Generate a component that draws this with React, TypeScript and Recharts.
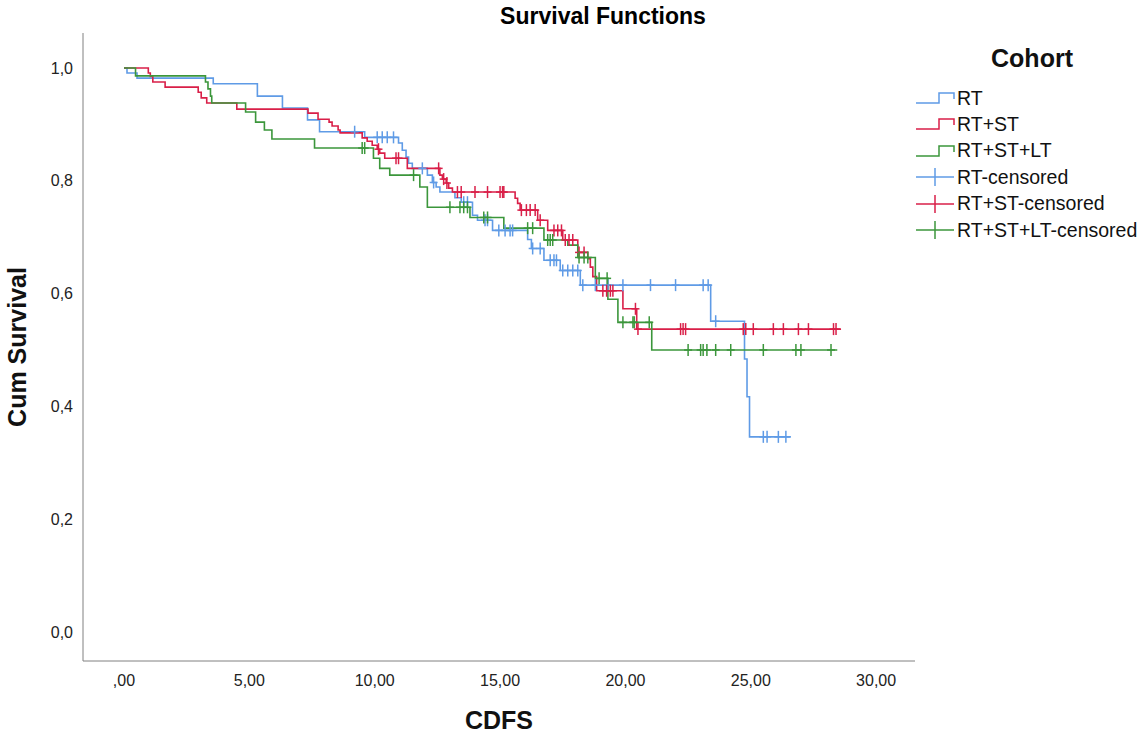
import React from "react";
import { ComposedChart, Line, Scatter, XAxis, YAxis } from "recharts";

// event times and survival after each event
const rtTimes = [0, 0.12, 0.52, 3.56, 5.32, 6.32, 7.32, 7.8, 9.6, 10.95, 11.1, 11.25, 11.35, 11.5, 12.1, 12.3, 12.45, 12.6, 13.2, 13.45, 13.9, 14.1, 14.7, 16.1, 16.25, 16.75, 17.4, 18.2, 23.4, 24.75, 24.85, 24.95];
const rtSurv = [1, 0.991, 0.982, 0.972, 0.95, 0.929, 0.908, 0.887, 0.877, 0.867, 0.854, 0.842, 0.831, 0.822, 0.81, 0.797, 0.789, 0.78, 0.77, 0.762, 0.739, 0.73, 0.712, 0.696, 0.68, 0.659, 0.641, 0.615, 0.551, 0.484, 0.417, 0.346];
const rtEnd = 26.6;
const rtCensored = [9.2, 10.1, 10.3, 10.5, 10.75, 11.9, 12.35, 13.55, 13.7, 14.4, 14.5, 14.95, 15.2, 15.4, 15.5, 16.3, 16.6, 17.0, 17.15, 17.25, 17.5, 17.7, 17.9, 18.1, 18.3, 18.8, 19.3, 19.9, 21.0, 22.0, 23.1, 23.3, 23.6, 25.5, 25.65, 26.1, 26.4];

const stTimes = [0, 0.97, 1.05, 1.15, 1.64, 2.96, 3.08, 3.3, 4.5, 7.34, 7.74, 8.18, 8.3, 8.54, 8.62, 9.5, 9.7, 9.9, 10.1, 10.2, 10.4, 11.3, 12.6, 12.7, 12.85, 12.95, 13.1, 15.6, 15.7, 15.8, 16.5, 16.9, 17.5, 18.1, 18.5, 18.6, 18.7, 18.85, 19.9, 20.45];
const stSurv = [1, 0.991, 0.985, 0.975, 0.966, 0.957, 0.947, 0.938, 0.927, 0.92, 0.909, 0.904, 0.897, 0.89, 0.885, 0.876, 0.87, 0.863, 0.856, 0.849, 0.84, 0.822, 0.81, 0.803, 0.796, 0.787, 0.78, 0.769, 0.76, 0.748, 0.73, 0.712, 0.695, 0.673, 0.662, 0.647, 0.63, 0.605, 0.573, 0.537];
const stEnd = 28.6;
const stCensored = [10.15, 10.85, 10.95, 12.55, 12.75, 12.88, 13.3, 13.45, 14.0, 14.5, 15.0, 15.1, 15.15, 15.85, 16.05, 16.2, 16.4, 16.6, 17.15, 17.3, 17.45, 17.6, 17.75, 17.9, 18.15, 18.35, 19.1, 19.25, 19.4, 19.5, 20.4, 20.5, 22.2, 22.3, 22.4, 24.7, 24.8, 25.1, 25.9, 26.3, 26.9, 27.3, 28.3, 28.4];

const ltTimes = [0, 0.46, 3.25, 3.35, 3.45, 3.5, 4.85, 5.25, 5.6, 5.9, 7.6, 9.95, 10.2, 10.6, 11.8, 12.1, 13.8, 15.15, 16.75, 17.7, 18.1, 18.8, 19.3, 19.7, 21.05];
const ltSurv = [1, 0.986, 0.975, 0.963, 0.95, 0.938, 0.922, 0.904, 0.89, 0.874, 0.858, 0.84, 0.822, 0.81, 0.789, 0.753, 0.735, 0.716, 0.695, 0.686, 0.664, 0.627, 0.59, 0.549, 0.5];
const ltEnd = 28.45;
const ltCensored = [9.5, 9.6, 11.55, 13.0, 13.4, 13.55, 13.7, 14.35, 14.5, 16.1, 16.3, 16.9, 17.0, 17.1, 18.15, 18.35, 18.5, 18.95, 19.27, 19.9, 20.3, 20.35, 20.95, 22.5, 23.0, 23.1, 23.25, 23.6, 24.2, 25.5, 26.8, 27.0, 28.2];

const xTicks = [0, 5, 10, 15, 20, 25, 30];
const yTicks = [0, 0.2, 0.4, 0.6, 0.8, 1.0];

const BLUE = "#5f9be6";
const RED = "#d91f48";
const GREEN = "#3b963b";
const FONT = "'Liberation Sans', Arial, sans-serif";

function steps(times: number[], surv: number[], end: number) {
  const pts = times.map((t, i) => ({ t, s: surv[i] }));
  pts.push({ t: end, s: surv[surv.length - 1] });
  return pts;
}

function survAt(times: number[], surv: number[], t: number) {
  let s = surv[0];
  for (let i = 0; i < times.length; i++) if (times[i] <= t) s = surv[i];
  return s;
}

function marks(times: number[], surv: number[], cens: number[]) {
  return cens.map((t) => ({ t, s: survAt(times, surv, t) }));
}

const CensorMark = (color: string) => (props: any) => {
  const { cx, cy } = props;
  return (
    <g stroke={color} strokeWidth={1.5}>
      <line x1={cx} x2={cx} y1={cy - 6} y2={cy + 6} />
      <line x1={cx - 4} x2={cx + 4} y1={cy} y2={cy} />
    </g>
  );
};

const legendItems = [
  { name: "RT", color: BLUE, kind: "step" },
  { name: "RT+ST", color: RED, kind: "step" },
  { name: "RT+ST+LT", color: GREEN, kind: "step" },
  { name: "RT-censored", color: BLUE, kind: "cross" },
  { name: "RT+ST-censored", color: RED, kind: "cross" },
  { name: "RT+ST+LT-censored", color: GREEN, kind: "cross" },
];

function CohortLegend() {
  return (
    <div style={{ position: "absolute", left: 0, top: 0, fontFamily: FONT, color: "#111" }}>
      <div
        style={{
          position: "absolute",
          left: 932,
          top: 44,
          width: 200,
          textAlign: "center",
          fontWeight: "bold",
          fontSize: 25,
          whiteSpace: "nowrap",
        }}
      >
        Cohort
      </div>
      {legendItems.map((it, i) => (
        <div
          key={it.name}
          style={{ position: "absolute", left: 915, top: 85 + i * 26.4, height: 26, display: "flex", alignItems: "center", whiteSpace: "nowrap" }}
        >
          <svg width={42} height={22}>
            {it.kind === "step" ? (
              <polyline points="1,16 24,16 24,6 39,6 39,12" fill="none" stroke={it.color} strokeWidth={1.5} />
            ) : (
              <g stroke={it.color} strokeWidth={1.5}>
                <line x1={1} x2={39} y1={11} y2={11} />
                <line x1={20} x2={20} y1={2} y2={20} />
              </g>
            )}
          </svg>
          <span style={{ fontSize: 19.5 }}>{it.name}</span>
        </div>
      ))}
    </div>
  );
}

export default function App() {
  const tickStyle = { fill: "#222", fontSize: 16, fontFamily: FONT };
  return (
    <div style={{ position: "absolute", left: 0, top: 0, width: 1146, height: 737, background: "#fff" }}>
      <div
        style={{
          position: "absolute",
          top: 3,
          left: 403,
          width: 400,
          textAlign: "center",
          fontFamily: FONT,
          fontWeight: "bold",
          fontSize: 23,
        }}
      >
        Survival Functions
      </div>
      <ComposedChart width={1146} height={737} margin={{ top: 33, right: 231, bottom: 46, left: 0 }}>
        <XAxis
          type="number"
          dataKey="t"
          domain={[-1.635, 31.55]}
          ticks={xTicks}
          allowDataOverflow
          tickLine={false}
          tickMargin={8}
          height={30}
          stroke="#808080"
          tick={tickStyle}
          tickFormatter={(v: number) => (v === 0 ? ",00" : v.toFixed(2).replace(".", ","))}
          label={{
            value: "CDFS",
            position: "bottom",
            offset: 20,
            style: { fontSize: 25, fontWeight: "bold", fill: "#111", fontFamily: FONT },
          }}
        />
        <YAxis
          type="number"
          dataKey="s"
          domain={[-0.0514, 1.062]}
          ticks={yTicks}
          allowDataOverflow
          width={83}
          tickLine={false}
          tickMargin={4}
          stroke="#808080"
          tick={tickStyle}
          tickFormatter={(v: number) => v.toFixed(1).replace(".", ",")}
          label={{
            value: "Cum Survival",
            angle: -90,
            position: "insideLeft",
            offset: 17,
            style: { fontSize: 25, fontWeight: "bold", fill: "#111", fontFamily: FONT, textAnchor: "middle" },
          }}
        />
        <Line data={steps(rtTimes, rtSurv, rtEnd)} dataKey="s" type="stepAfter" stroke={BLUE} strokeWidth={1.6} dot={false} isAnimationActive={false} />
        <Line data={steps(stTimes, stSurv, stEnd)} dataKey="s" type="stepAfter" stroke={RED} strokeWidth={1.6} dot={false} isAnimationActive={false} />
        <Line data={steps(ltTimes, ltSurv, ltEnd)} dataKey="s" type="stepAfter" stroke={GREEN} strokeWidth={1.6} dot={false} isAnimationActive={false} />
        <Scatter data={marks(rtTimes, rtSurv, rtCensored)} dataKey="s" shape={CensorMark(BLUE)} isAnimationActive={false} />
        <Scatter data={marks(stTimes, stSurv, stCensored)} dataKey="s" shape={CensorMark(RED)} isAnimationActive={false} />
        <Scatter data={marks(ltTimes, ltSurv, ltCensored)} dataKey="s" shape={CensorMark(GREEN)} isAnimationActive={false} />
      </ComposedChart>
      <CohortLegend />
    </div>
  );
}
